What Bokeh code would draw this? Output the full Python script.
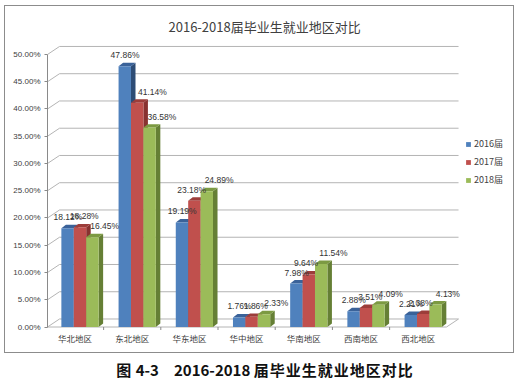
from bokeh.plotting import figure
from bokeh.models import (Range1d, FixedTicker, PrintfTickFormatter, Legend,
                          LegendItem, ColumnDataSource, Div)
from bokeh.layouts import column
from bokeh.embed import file_html
from bokeh.resources import INLINE
from bokeh.core.properties import value

# ---------------- data ----------------
categories = ["华北地区", "东北地区", "华东地区", "华中地区", "华南地区", "西南地区", "西北地区"]
series_names = ["2016届", "2017届", "2018届"]
v2016 = [18.12, 47.86, 19.19, 1.76, 7.98, 2.88, 2.21]
v2017 = [18.28, 41.14, 23.18, 1.86, 9.64, 3.51, 2.38]
v2018 = [16.45, 36.58, 24.89, 2.33, 11.54, 4.09, 4.13]
y_ticks = [0, 5, 10, 15, 20, 25, 30, 35, 40, 45, 50]
title_text = "2016-2018届毕业生就业地区对比"
caption_text = ('<span style="letter-spacing:1px">图</span> 4-3\u30002016-2018 '
                '<span style="letter-spacing:1px">届毕业生就业地区对比</span>')

# ---------------- style ----------------
front_colors = ["#4F81BD", "#C0504D", "#9BBB59"]
top_colors = ["#3A6299", "#9C3D3A", "#7C9A42"]
side_colors = ["#2D4C75", "#883230", "#657F35"]
grid_color = "#b4b4b4"
axis_color = "#8a8a8a"
text_color = "#333333"
num_font = "Liberation Sans"
cjk_font = "Noto Sans CJK SC"

X0, X1 = -0.481, 7.596
Y0, Y1 = -0.64, 51.83
wall_right = 6.705
floor_right = 6.495
bar_w = 0.217
shift = 0.087
ddx, ddy = 0.079, 0.64      # bar depth
wdx, wdy = 0.21, 1.47       # wall depth

p = figure(width=510, height=348, x_range=Range1d(X0, X1), y_range=Range1d(Y0, Y1),
           output_backend="svg", toolbar_location=None,
           min_border_left=42, min_border_right=6, min_border_top=38, min_border_bottom=24)
p.styles = {"border": "1px solid #8c8c8c"}
p.outline_line_color = None
p.grid.visible = False

p.title.text = title_text
p.title.align = "left"
p.title.offset = 121
p.title.standoff = 17
p.title.text_font = cjk_font
p.title.text_font_size = "13px"
p.title.text_font_style = "normal"
p.title.text_color = "#404040"

# y axis
p.yaxis.ticker = FixedTicker(ticks=y_ticks)
p.yaxis.formatter = PrintfTickFormatter(format="%.2f%%")
p.yaxis.bounds = (y_ticks[0], y_ticks[-1])
p.yaxis.axis_line_color = axis_color
p.yaxis.major_tick_line_color = axis_color
p.yaxis.major_tick_out = 3
p.yaxis.major_tick_in = 0
p.yaxis.minor_tick_line_color = None
p.yaxis.major_label_standoff = 4
p.yaxis.major_label_text_font = num_font
p.yaxis.major_label_text_font_size = "8px"
p.yaxis.major_label_text_color = "#404040"

# x axis
p.xaxis.ticker = FixedTicker(ticks=list(range(len(categories))))
p.xaxis.major_label_overrides = {i: c for i, c in enumerate(categories)}
p.xaxis.axis_line_color = None
p.xaxis.major_tick_line_color = None
p.xaxis.major_tick_out = 0
p.xaxis.major_tick_in = 0
p.xaxis.minor_tick_line_color = None
p.xaxis.major_label_standoff = 1
p.xaxis.major_label_text_font = cjk_font
p.xaxis.major_label_text_font_size = "8.5px"
p.xaxis.major_label_text_color = "#404040"

# back wall gridlines with slanted connectors
gx = [[X0, X0 + wdx, wall_right] for t in y_ticks]
gy = [[t, t + wdy, t + wdy] for t in y_ticks]
p.multi_line(gx, gy, line_color=grid_color, line_width=1)
# floor front edge
p.line([X0, floor_right, wall_right], [0, 0, wdy], line_color=grid_color, line_width=1)
# category tick marks
bx = [[i + 0.5, i + 0.5] for i in range(len(categories) - 1)]
by = [[0, -0.55] for i in range(len(categories) - 1)]
p.multi_line(bx, by, line_color=axis_color, line_width=1)

series = [v2016, v2017, v2018]
legend_items = []
label_sources = []
for j, vals in enumerate(series):
    xc = [i + shift + (j - 1) * bar_w for i in range(len(categories))]
    xl = [x - bar_w / 2 for x in xc]
    xr = [x + bar_w / 2 for x in xc]
    side_xs = [[r, r + ddx, r + ddx, r] for r in xr]
    side_ys = [[0, ddy, v + ddy, v] for v in vals]
    top_xs = [[l, l + ddx, r + ddx, r] for l, r in zip(xl, xr)]
    top_ys = [[v, v + ddy, v + ddy, v] for v in vals]
    p.patches(side_xs, side_ys, fill_color=side_colors[j], line_color=None)
    p.patches(top_xs, top_ys, fill_color=top_colors[j], line_color=None)
    fr = p.vbar(x=xc, top=vals, bottom=0, width=bar_w, fill_color=front_colors[j],
                line_color=None)
    legend_items.append(LegendItem(label=series_names[j], renderers=[fr]))
    # horizontal nudge of the value labels, away from taller neighbours
    if j == 0:
        dx = [-2 for v in vals]
    elif j == 1:
        dx = []
        for b, r, g in zip(v2016, v2017, v2018):
            if b > r + 2:
                dx.append(13)
            elif g > r + 1:
                dx.append(-5)
            else:
                dx.append(2)
    else:
        dx = [10 for v in vals]
    label_sources.append(ColumnDataSource(dict(
        x=[x + ddx / 2 for x in xc], y=[v + ddy for v in vals],
        t=["%.2f%%" % v for v in vals], dx=dx)))

for src in label_sources:
    p.text(x="x", y="y", text="t", source=src, text_font=value(num_font),
           text_font_size="8.5px", text_color=text_color, text_align="center",
           text_baseline="middle", x_offset="dx", y_offset=-7.5)

legend = Legend(items=legend_items, location=(418, 144), orientation="vertical",
                background_fill_alpha=0, border_line_color=None, glyph_width=6,
                glyph_height=6, label_text_font_size="9px", label_text_font=cjk_font,
                label_text_color="#404040", label_standoff=3, spacing=5, padding=0,
                margin=0, label_height=10)
p.add_layout(legend)

cap = Div(text=caption_text, width=512, height=24,
          styles={"text-align": "center", "width": "512px",
                  "font-family": "'Noto Sans CJK SC'", "font-size": "15px",
                  "font-weight": "bold", "color": "#111", "line-height": "24px",
                  "white-space": "pre"})

layout = column(p, cap, spacing=0, margin=(5, 0, 0, 4))
open("out.html", "w").write(file_html(layout, INLINE))
